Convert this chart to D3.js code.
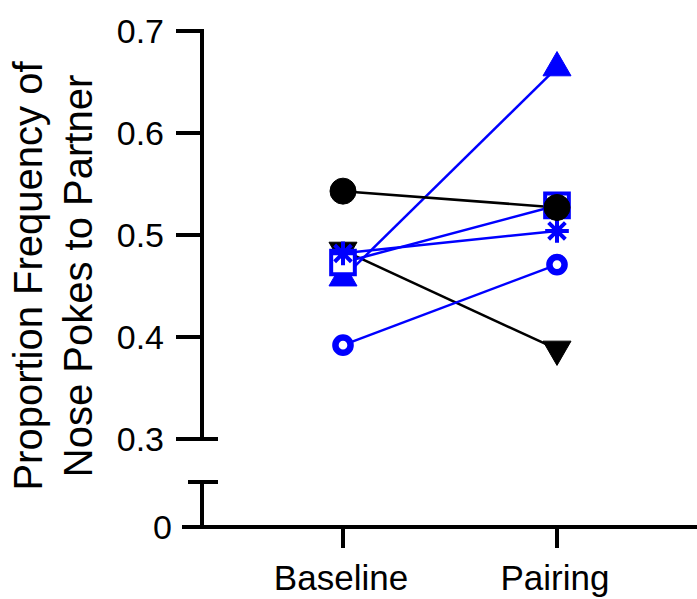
<!DOCTYPE html>
<html>
<head>
<meta charset="utf-8">
<script src="https://cdn.jsdelivr.net/npm/d3@7"></script>
<style>
  body { margin: 0; background: #fff; }
  text { font-family: "Liberation Sans", Arial, Helvetica, sans-serif; fill: #000; }
</style>
</head>
<body>
<svg id="chart"></svg>
<script>
// conditions on the x axis
const conditions = ["Baseline", "Pairing"];

// one pair of values per animal
const animals = ["A1", "A2", "A3", "A4", "A5", "A6"];
const baselineValues = [0.485, 0.458, 0.473, 0.482, 0.392, 0.543];
const pairingValues  = [0.388, 0.664, 0.529, 0.504, 0.471, 0.527];
const animalColors   = ["#000000", "#0000ff", "#0000ff", "#0000ff", "#0000ff", "#000000"];
const animalShapes   = ["triangleDown", "triangle", "squareOpen", "asterisk", "circleOpen", "circle"];

// y tick labels
const upperTicks = [0.3, 0.4, 0.5, 0.6, 0.7];
const lowerTicks = [0];

const width = 697;
const height = 599;

const svg = d3.select("#chart")
    .attr("width", width)
    .attr("height", height);

const axisX = 202;
const xAxisY = 527;

const x = d3.scalePoint()
    .domain(conditions)
    .range([343, 557]);

// broken y axis: upper segment and a short lower segment holding 0
const yUp = d3.scaleLinear().domain([0.3, 0.7]).range([439, 31]);
const yLow = d3.scaleLinear().domain([0, 0.04]).range([xAxisY, 482]);

const black = "#000";

// upper y axis segment
svg.append("line")
    .attr("x1", axisX).attr("x2", axisX)
    .attr("y1", yUp(0.7) - 2).attr("y2", yUp(0.3))
    .attr("stroke", black).attr("stroke-width", 4);

svg.append("g")
    .selectAll("line")
    .data(upperTicks)
    .enter().append("line")
    .attr("x1", axisX - 26)
    .attr("x2", d => d === 0.3 ? axisX + 16 : axisX)
    .attr("y1", d => yUp(d)).attr("y2", d => yUp(d))
    .attr("stroke", black).attr("stroke-width", 4);

svg.append("g")
    .selectAll("text")
    .data(upperTicks)
    .enter().append("text")
    .attr("x", axisX - 38)
    .attr("y", d => yUp(d))
    .attr("dy", "0.36em")
    .attr("text-anchor", "end")
    .style("font-size", "34px")
    .text(d => d3.format(".1f")(d));

// lower y axis segment
svg.append("line")
    .attr("x1", axisX).attr("x2", axisX)
    .attr("y1", yLow(0.04)).attr("y2", yLow(0))
    .attr("stroke", black).attr("stroke-width", 4);

svg.append("line")
    .attr("x1", axisX - 14).attr("x2", axisX + 16)
    .attr("y1", yLow(0.04)).attr("y2", yLow(0.04))
    .attr("stroke", black).attr("stroke-width", 4);

svg.append("g")
    .selectAll("text")
    .data(lowerTicks)
    .enter().append("text")
    .attr("x", axisX - 30)
    .attr("y", d => yLow(d))
    .attr("dy", "0.36em")
    .attr("text-anchor", "end")
    .style("font-size", "34px")
    .text(d => d);

// x axis
svg.append("line")
    .attr("x1", axisX - 20).attr("x2", width + 5)
    .attr("y1", xAxisY).attr("y2", xAxisY)
    .attr("stroke", black).attr("stroke-width", 4);

svg.append("g")
    .selectAll("line")
    .data(conditions)
    .enter().append("line")
    .attr("x1", d => x(d)).attr("x2", d => x(d))
    .attr("y1", xAxisY).attr("y2", xAxisY + 21)
    .attr("stroke", black).attr("stroke-width", 4);

svg.append("g")
    .selectAll("text")
    .data(conditions)
    .enter().append("text")
    .attr("x", d => x(d) - 2)
    .attr("y", 590)
    .attr("text-anchor", "middle")
    .style("font-size", "35px")
    .text(d => d);

// y axis title, two lines
const title = svg.append("text")
    .attr("transform", "translate(42,276) rotate(-90)")
    .attr("text-anchor", "middle")
    .style("font-size", "40px");
title.append("tspan").attr("x", 0).attr("y", 0).text("Proportion Frequency of");
title.append("tspan").attr("x", 0).attr("y", 50).text("Nose Pokes to Partner");

// custom asterisk symbol
const asterisk = {
    draw(context, size) {
        const r = Math.sqrt(size) / 2;
        for (let k = 0; k < 4; k++) {
            const a = k * Math.PI / 4;
            context.moveTo(-r * Math.cos(a), -r * Math.sin(a));
            context.lineTo(r * Math.cos(a), r * Math.sin(a));
        }
    }
};

const shapeDefs = {
    triangleDown: { type: d3.symbolTriangle, size: 340, rotate: 180, fill: true },
    triangle:     { type: d3.symbolTriangle, size: 340, rotate: 0, fill: true },
    squareOpen:   { type: d3.symbolSquare, size: 560, rotate: 0, fill: false, sw: 4 },
    asterisk:     { type: asterisk, size: 560, rotate: 0, fill: false, sw: 4 },
    circleOpen:   { type: d3.symbolCircle, size: 180, rotate: 0, fill: false, sw: 6.5 },
    circle:       { type: d3.symbolCircle, size: 530, rotate: 0, fill: true }
};

const data = animals.map((id, i) => ({
    id: id,
    values: [baselineValues[i], pairingValues[i]],
    color: animalColors[i],
    shape: animalShapes[i]
}));

// connecting lines
const line = d3.line()
    .x((d, i) => x(conditions[i]))
    .y(d => yUp(d));

svg.append("g")
    .selectAll("path")
    .data(data)
    .enter().append("path")
    .attr("d", d => line(d.values))
    .attr("fill", "none")
    .attr("stroke", d => d.color)
    .attr("stroke-width", 2.5);

// markers
data.forEach(d => {
    const def = shapeDefs[d.shape];
    const sym = d3.symbol().type(def.type).size(def.size);
    svg.append("g")
        .selectAll("path")
        .data(d.values)
        .enter().append("path")
        .attr("d", sym)
        .attr("transform", (v, i) => "translate(" + x(conditions[i]) + "," + yUp(v) + ") rotate(" + def.rotate + ")")
        .attr("fill", def.fill ? d.color : (d.shape === "circleOpen" || d.shape === "squareOpen" ? "#fff" : "none"))
        .attr("stroke", d.color)
        .attr("stroke-width", def.fill ? 1 : def.sw);
});
</script>
</body>
</html>
